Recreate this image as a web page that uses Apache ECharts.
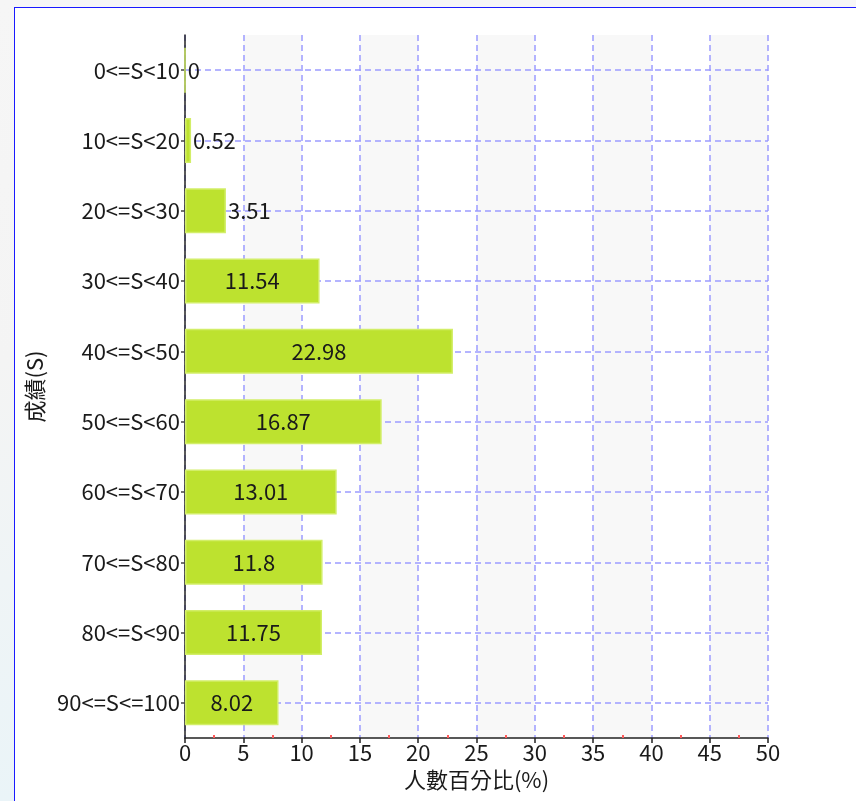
<!DOCTYPE html>
<html>
<head>
<meta charset="utf-8">
<script src="https://cdn.jsdelivr.net/npm/echarts@6/dist/echarts.min.js"></script>
<style>
html,body{margin:0;padding:0;width:856px;height:801px;overflow:hidden;}
body{background:linear-gradient(180deg,#f6f6f6 0%,#f4f4f4 45%,#eaf4f8 100%);position:relative;}
#panel{position:absolute;left:14px;top:7px;width:842px;height:794px;background:#fff;border-left:1.5px solid #1a1aff;border-top:1.5px solid #1a1aff;box-sizing:border-box;}
#chart{position:absolute;left:0;top:0;width:856px;height:801px;}
</style>
</head>
<body>
<div id="panel"></div>
<div id="chart"></div>
<script>
const categories = ['0<=S<10','10<=S<20','20<=S<30','30<=S<40','40<=S<50','50<=S<60','60<=S<70','70<=S<80','80<=S<90','90<=S<=100'];
const percents = [0, 0.52, 3.51, 11.54, 22.98, 16.87, 13.01, 11.8, 11.75, 8.02];
const xTicks = [0, 5, 10, 15, 20, 25, 30, 35, 40, 45, 50];
const xAxisName = '人數百分比(%)';
const yAxisName = '成績(S)';

const font = '"Noto Sans CJK TC","Noto Sans",sans-serif';
const chart = echarts.init(document.getElementById('chart'), null, {renderer:'canvas'});
const gridLine = {show:true, lineStyle:{color:'#9c9cff', type:[6,4], width:1.5}};
chart.setOption({
  backgroundColor:'transparent',
  animation:false,
  grid:{left:185, right:88, top:35, bottom:63, containLabel:false},
  xAxis:{
    type:'value', min:xTicks[0], max:xTicks[xTicks.length-1], interval:5, z:0,
    name:xAxisName, nameLocation:'middle', nameGap:26,
    nameTextStyle:{fontFamily:font, fontSize:22, color:'#1a1a1a'},
    axisLine:{show:true, lineStyle:{color:'#222', width:1.5}},
    axisTick:{show:true, length:5, lineStyle:{color:'#222', width:1.5}},
    minorTick:{show:true, splitNumber:2, length:-3, lineStyle:{color:'#ff5a5a', width:2}},
    axisLabel:{fontFamily:font, fontSize:22, color:'#1a1a1a', margin:4},
    splitLine:gridLine,
    splitArea:{show:true, areaStyle:{color:['rgba(255,255,255,0)','rgba(0,0,0,0.028)']}}
  },
  yAxis:{
    type:'category', data:categories, inverse:true, z:1,
    name:yAxisName, nameLocation:'middle', nameGap:133, nameRotate:90,
    nameTextStyle:{fontFamily:font, fontSize:22, color:'#1a1a1a'},
    axisLine:{show:true, lineStyle:{color:'#222', width:1.5}},
    axisTick:{show:true, alignWithLabel:true, length:4, lineStyle:{color:'#444', width:1.5}},
    axisLabel:{fontFamily:font, fontSize:22, color:'#1a1a1a', margin:5},
    splitLine:Object.assign({alignWithLabel:true}, gridLine)
  },
  series:[{
    type:'bar',
    barWidth:'64%',
    z:2,
    data:percents.map(v => ({
      value:v,
      label:{position: v < 5 ? 'right' : 'inside', distance:2}
    })),
    itemStyle:{color:'#bde22f', borderColor:'#d2ee68', borderWidth:1.5},
    label:{show:true, fontFamily:font, fontSize:22, color:'#1a1a1a'}
  }]
});
</script>
</body>
</html>
